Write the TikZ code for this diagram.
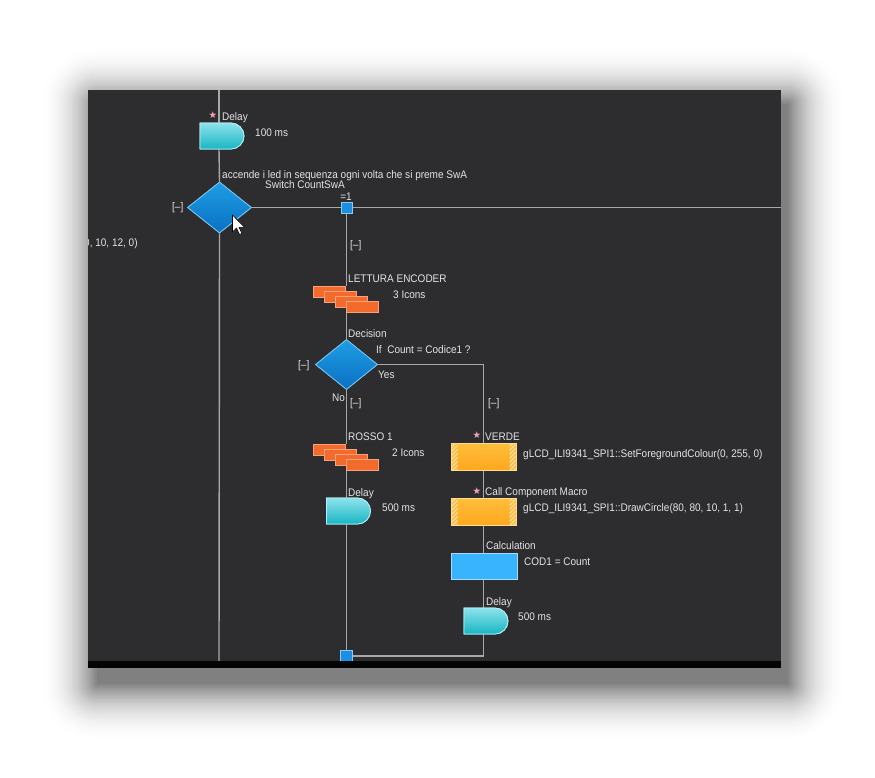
\documentclass[tikz,border=0pt]{standalone}
\usepackage{fontspec}
\setmainfont{Liberation Sans}[FakeStretch=0.91]
\newfontfamily\symfont{DejaVu Sans}
\usetikzlibrary{shapes.geometric,shapes.misc}
\definecolor{panel}{HTML}{2D2D30}
\definecolor{barc}{HTML}{050505}
\definecolor{linec}{HTML}{A8A8A8}
\definecolor{txtc}{HTML}{E4E4E4}
\definecolor{dtop}{HTML}{8DE2EC}
\definecolor{dbot}{HTML}{17B6C2}
\definecolor{dborder}{HTML}{B4F0F5}
\definecolor{dmtop}{HTML}{1E9DE4}
\definecolor{dmbot}{HTML}{0A70C2}
\definecolor{dmborder}{HTML}{78C2EE}
\definecolor{orangec}{HTML}{F26A2C}
\definecolor{oborder}{HTML}{F7A27A}
\definecolor{mtop}{HTML}{FFBE3C}
\definecolor{mbot}{HTML}{FFA81E}
\definecolor{mborder}{HTML}{FFDC95}
\definecolor{hatchbg}{HTML}{FFB634}
\definecolor{hatchln}{HTML}{FFE3A4}
\definecolor{calcc}{HTML}{38B4FF}
\definecolor{calcborder}{HTML}{A6DAFF}
\definecolor{sqc}{HTML}{1C8FE0}
\definecolor{sqborder}{HTML}{8ACBF5}
\definecolor{starc}{HTML}{F3A3B6}
\begin{document}
\begin{tikzpicture}[x=1pt,y=-1pt,
  font=\fontsize{11}{13}\selectfont,
  txt/.style={anchor=base west, inner sep=0pt, text=txtc},
  startxt/.style={inner sep=0pt, text=starc, font=\symfont\fontsize{9.5}{10}\selectfont},
  conn/.style={draw=linec, line width=1.4pt},
  delayshape/.style={rounded rectangle, rounded rectangle left arc=none,
    minimum width=44pt, minimum height=26pt, inner sep=0pt,
    top color=dtop, bottom color=dbot, draw=dborder, line width=0.8pt},
  decision/.style={diamond, aspect=1.25, inner sep=0pt,
    top color=dmtop, bottom color=dmbot, draw=dmborder, line width=0.8pt},
  junction/.style={rectangle, minimum size=11pt, inner sep=0pt,
    fill=sqc, draw=sqborder, line width=0.8pt},
  iconstack/.style={rectangle, minimum width=65pt, minimum height=26pt, inner sep=0pt, draw=none},
  iconrect/.style={fill=orangec, draw=oborder, line width=0.8pt},
  macrobox/.style={rectangle, minimum width=65pt, minimum height=27pt, inner sep=0pt,
    top color=mtop, bottom color=mbot, draw=mborder, line width=0.8pt,
    path picture={
      \begin{scope}
        \clip ([xshift=0.4pt]path picture bounding box.south west) rectangle ([xshift=6.5pt]path picture bounding box.north west);
        \fill[hatchbg] ([xshift=0.4pt]path picture bounding box.south west) rectangle ([xshift=6.5pt]path picture bounding box.north west);
        \foreach \k in {-1,...,8}
          \draw[hatchln, line width=1.2pt] ([yshift=\k*4pt-6pt]path picture bounding box.south west) -- ([xshift=8pt,yshift=\k*4pt+2pt]path picture bounding box.south west);
      \end{scope}
      \begin{scope}
        \clip ([xshift=-6.5pt]path picture bounding box.south east) rectangle ([xshift=-0.4pt]path picture bounding box.north east);
        \fill[hatchbg] ([xshift=-6.5pt]path picture bounding box.south east) rectangle ([xshift=-0.4pt]path picture bounding box.north east);
        \foreach \k in {-1,...,8}
          \draw[hatchln, line width=1.2pt] ([xshift=-8pt,yshift=\k*4pt-6pt]path picture bounding box.south east) -- ([yshift=\k*4pt+2pt]path picture bounding box.south east);
      \end{scope}
    }},
  calcbox/.style={rectangle, minimum width=66pt, minimum height=26pt, inner sep=0pt,
    fill=calcc, draw=calcborder, line width=0.8pt}
]
\useasboundingbox (0,0) rectangle (875,777);
\fill[white] (0,0) rectangle (875,777);
% soft shadow: opaque nested rounded rectangles, light outside to dark inside
\foreach \i in {32,...,0} {
  \pgfmathsetmacro{\shd}{50*(1-\i/32)^2.2}
  \fill[black!\shd!white, rounded corners=\i*1.9pt]
    (97-\i*1.9, 104-\i*1.9) rectangle (788+\i*1.9, 684+\i*1.9);
}
% panel
\fill[panel] (88,90) rectangle (781,668);
\begin{scope}
\clip (88,90) rectangle (781,661);

% coordinates at panel edges
\coordinate (top) at (219,90);
\coordinate (bot) at (219,661);
\coordinate (redge) at (781,207.5);

% nodes
\node[delayshape] (dly1) at (222,136) {};
\node[decision, minimum width=64pt, minimum height=51pt] (dec1) at (219.5,207.5) {};
\node[junction] (sq1) at (346.5,207.5) {};
\node[iconstack, anchor=north west] (enc) at (313,286) {};
\node[decision, minimum width=62pt, minimum height=50pt] (dec2) at (346.5,364.5) {};
\node[iconstack, anchor=north west] (rosso) at (313,444) {};
\node[delayshape] (dly2) at (348.5,511) {};
\node[junction, minimum size=12pt] (sq2) at (346.5,656) {};
\node[macrobox] (verde) at (483.5,456.5) {};
\node[macrobox] (macro) at (483.5,511.5) {};
\node[calcbox] (calc) at (484,566) {};
\node[delayshape] (dly3) at (486,621) {};

% connectors
\draw[conn] (top) -- (top |- dly1.north);
\draw[conn] (top |- dly1.south) -- (dec1.north);
\draw[conn] (dec1.south) -- (bot);
\draw[conn] (dec1.east) -- (sq1.west);
\draw[conn] (sq1.east) -- (redge);
\draw[conn] (sq1.south) -- (sq1 |- enc.north);
\draw[conn] (sq1 |- enc.south) -- (dec2.north);
\draw[conn] (dec2.south) -- (sq1 |- rosso.north);
\draw[conn] (sq1 |- rosso.south) -- (sq1 |- dly2.north);
\draw[conn] (sq1 |- dly2.south) -- (sq2.north);
\draw[conn] (dec2.east) -| (verde.north);
\draw[conn] (verde.south) -- (macro.north);
\draw[conn] (macro.south) -- (calc.north -| macro);
\draw[conn] (calc.south -| macro) -- (dly3.north -| macro);
\draw[conn] (dly3.south -| macro) |- (sq2.east);

% redraw shapes over connectors
\node[delayshape] at (dly1) {};
\node[decision, minimum width=64pt, minimum height=51pt] at (dec1) {};
\node[junction] at (sq1) {};
\node[decision, minimum width=62pt, minimum height=50pt] at (dec2) {};
\node[delayshape] at (dly2) {};
\node[junction, minimum size=12pt] at (sq2) {};
\node[macrobox] at (verde) {};
\node[macrobox] at (macro) {};
\node[calcbox] at (calc) {};
\node[delayshape] at (dly3) {};
\foreach \k in {0,...,3} {
  \draw[iconrect] ([xshift=\k*11pt, yshift=-\k*5pt]enc.north west) rectangle ++(32,11);
  \draw[iconrect] ([xshift=\k*11pt, yshift=-\k*5pt]rosso.north west) rectangle ++(32,11);
}

% labels
\node[startxt] (s1) at (213,115.5) {★};
\node[txt] (l1) at (222,120) {Delay};
\node[txt] (l2) at (255,136) {100 ms};
\node[txt] (l3) at (222,178.5) {accende i led in sequenza ogni volta che si preme SwA};
\node[txt] (l4) at (265,188.5) {Switch CountSwA};
\node[txt] (l5) at (172,210) {[–]};
\node[txt, anchor=base] (l6) at (346,200.5) {=1};
\node[txt] (l7) at (350,248) {[–]};
\node[txt] (l8) at (348,282) {LETTURA ENCODER};
\node[txt] (l9) at (393,298) {3 Icons};
\node[txt] (l10) at (348,337) {Decision};
\node[txt] (l11) at (376,353) {If\ \ Count = Codice1 ?};
\node[txt] (l12) at (298,368) {[–]};
\node[txt] (l13) at (378,378) {Yes};
\node[txt] (l14) at (332,401) {No};
\node[txt] (l15) at (350,406) {[–]};
\node[txt] (l16) at (488,406) {[–]};
\node[txt] (l17) at (348,440) {ROSSO 1};
\node[txt] (l18) at (392,456) {2 Icons};
\node[txt] (l19) at (348,496) {Delay};
\node[txt] (l20) at (382,511) {500 ms};
\node[startxt] (s2) at (477,435.5) {★};
\node[txt] (l21) at (485,440) {VERDE};
\node[txt] (l22) at (523,457) {gLCD\_ILI9341\_SPI1::SetForegroundColour(0, 255, 0)};
\node[startxt] (s3) at (477,491) {★};
\node[txt] (l23) at (485,495) {Call Component Macro};
\node[txt] (l24) at (523,511) {gLCD\_ILI9341\_SPI1::DrawCircle(80, 80, 10, 1, 1)};
\node[txt] (l25) at (486,549) {Calculation};
\node[txt] (l26) at (524,565) {COD1 = Count};
\node[txt] (l27) at (486,605) {Delay};
\node[txt] (l28) at (518,620) {500 ms};
\node[txt] (l29) at (84,246) {0, 10, 12, 0)};

% mouse cursor
\draw[fill=white, draw=black, line width=0.6pt, line join=round]
  (232.5,215) -- ++(0,17) -- ++(4,-4) -- ++(3,6.5) -- ++(2.5,-1) -- ++(-3,-6.2) -- ++(5.5,0) -- cycle;
\end{scope}
% bottom bar
\fill[barc] (88,661) rectangle (781,668);
\end{tikzpicture}
\end{document}
